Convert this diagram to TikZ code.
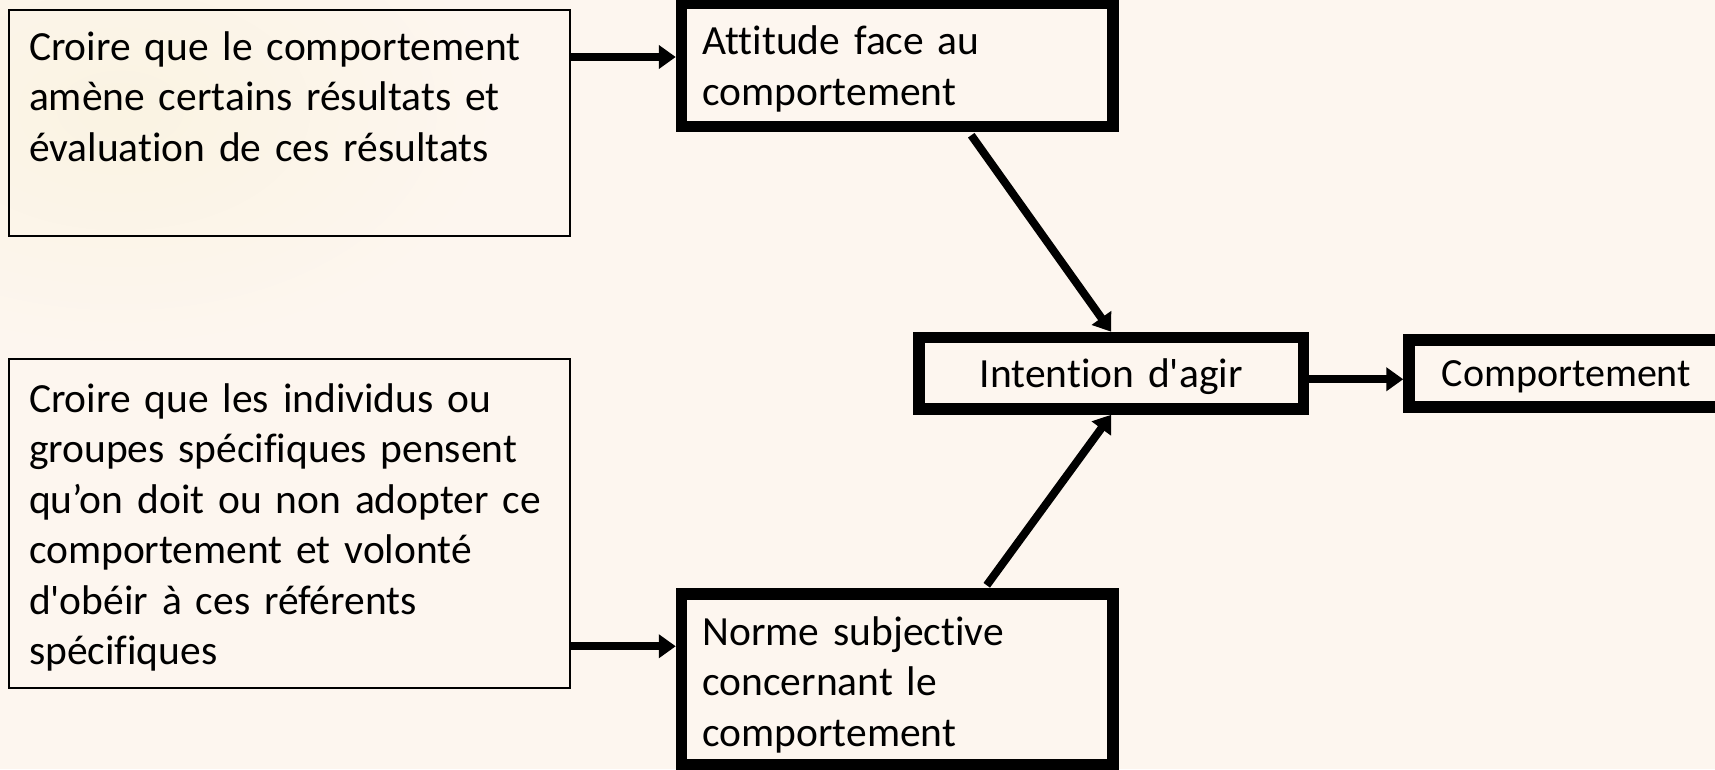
\documentclass[tikz,border=0pt]{standalone}
\usepackage{fontspec}
\setmainfont{Carlito}[Ligatures={TeXOff,NoCommon}]
\usetikzlibrary{positioning,arrows.meta}
\definecolor{cPaper}{HTML}{FDF6EF}
\definecolor{cSwirl}{HTML}{FAF3E2}
\tikzset{
  >={Triangle[length=17pt,width=23pt]},
  txt/.style={font=\fontsize{41.5pt}{50.5pt}\selectfont},
  belief/.style={txt,draw,line width=2pt,anchor=north west,align=left,
                 inner xsep=20pt,inner ysep=0pt,text width=521pt},
  factor/.style={txt,draw,line width=11.5pt,anchor=north west,align=left,
                 inner xsep=21pt,inner ysep=0pt,text width=389.5pt},
  outcome/.style={txt,draw,line width=11.5pt,inner ysep=0pt},
  link/.style={->,line width=8pt},
}

\begin{document}
\begin{tikzpicture}[x=1pt,y=-1pt]
  \path[use as bounding box,fill=cPaper] (0,0) rectangle (1715,769);
  \shade[inner color=cSwirl,outer color=cPaper] (120,110) ellipse (380pt and 240pt);

  % belief boxes
  \node[belief,text height=50pt,text depth=176pt] (bel) at (8,9)
       {Croire que le comportement\\amène certains résultats et\\évaluation de ces résultats};
  \node[belief,text height=53pt,text depth=276pt] (ref) at (8,358)
       {Croire que les individus ou\\groupes spécifiques pensent\\qu’on doit ou non adopter ce\\comportement et volonté\\d'obéir à ces référents\\spécifiques};

  % attitude / norm
  \node[factor,text height=51.2pt,text depth=71.8pt] (att) at (675.75,-2.25)
       {Attitude face au\\comportement};
  \node[factor,text height=51pt,text depth=119.5pt] (nrm) at (675.75,588.25)
       {Norme subjective\\concernant le\\comportement};

  % intention -> behaviour
  \node[outcome,anchor=north west,text width=384.5pt,inner xsep=0pt,align=center,
        text height=49.8pt,text depth=21.7pt] (int) at (913.25,331.75) {Intention d'agir};
  \node[outcome,right=94pt of int,text width=250pt,inner xsep=32.7pt,align=left,
        font=\fontsize{40pt}{48pt}\selectfont,
        text height=46.3pt,text depth=20.7pt] (cmp) {Comportement};

  \coordinate (attIn) at ([yshift=8pt]att.west);
  \coordinate (nrmIn) at ([yshift=33pt]nrm.west);
  \draw[link] (bel.east |- attIn) -- (attIn);
  \draw[link] (ref.east |- nrmIn) -- (nrmIn);
  \draw[link] ([xshift=74pt,yshift=-3pt]att.south) -- (int.north);
  \draw[link] ([xshift=89.5pt,yshift=3pt]nrm.north) -- (int.south);
  \draw[link] ([yshift=-6pt]int.east) -- ([yshift=-6pt]cmp.west);
\end{tikzpicture}
\end{document}
